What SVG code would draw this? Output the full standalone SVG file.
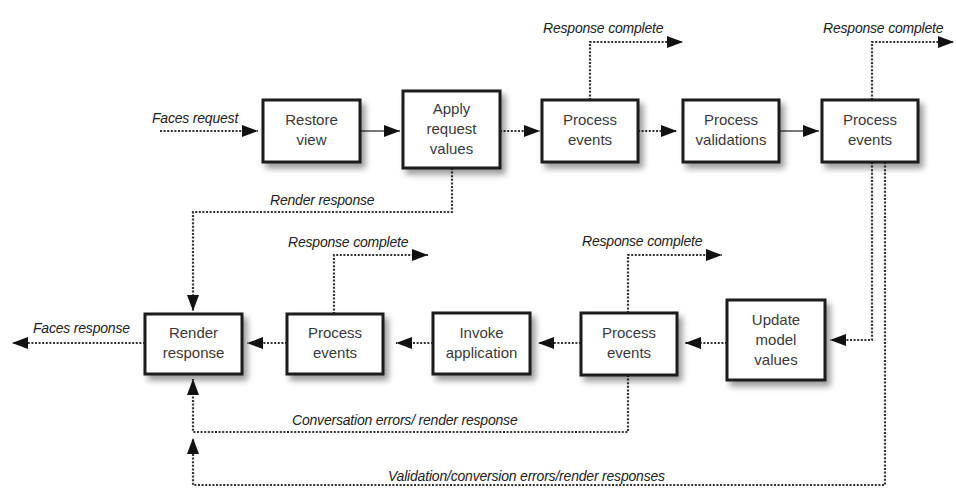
<svg xmlns="http://www.w3.org/2000/svg" width="956" height="489" viewBox="0 0 956 489">
  <defs>
    <style>
      .box { fill: #ffffff; stroke: #1c1c1c; stroke-width: 3; filter: url(#shadow); }
      .name { font-family: "Liberation Sans", Arial, sans-serif; font-size: 15px; fill: #3a3a3a; text-anchor: middle; }
      .lbl { font-family: "Liberation Sans", Arial, sans-serif; font-size: 14px; font-style: italic; fill: #222222; letter-spacing: -0.2px; }
      .dot { fill: none; stroke: #333333; stroke-width: 2.2; stroke-dasharray: 2 1.6; marker-end: url(#arrow); }
      .solid { fill: none; stroke: #7a7a7a; stroke-width: 2.2; marker-end: url(#arrow); }
    </style>
    <filter id="shadow" x="-20%" y="-20%" width="150%" height="160%">
      <feGaussianBlur in="SourceAlpha" stdDeviation="3"/>
      <feOffset dx="4" dy="5" result="b"/>
      <feComponentTransfer><feFuncA type="linear" slope="0.4"/></feComponentTransfer>
      <feMerge><feMergeNode/><feMergeNode in="SourceGraphic"/></feMerge>
    </filter>
    <marker id="arrow" viewBox="0 0 16 12" refX="16" refY="6" markerWidth="16" markerHeight="12" markerUnits="userSpaceOnUse" orient="auto">
      <path d="M0,0 L16,6 L0,12 z" fill="#111111"/>
    </marker>
  </defs>

  <rect width="956" height="489" fill="#ffffff"/>

  <!-- connectors -->
  <g id="connectors">
    <path class="dot" d="M160,131 H258"/>
    <path class="solid" d="M360,131 H400"/>
    <path class="dot" d="M500,131 H540"/>
    <path class="dot" d="M638,131 H677"/>
    <path class="solid" d="M779,131 H819"/>
    <path class="dot" d="M590,100 V42 H683"/>
    <path class="dot" d="M872,100 V42 H954"/>
    <path class="dot" d="M872,162 V340 H830"/>
    <path class="dot" d="M885,162 V485 H193 V438"/>
    <path class="dot" d="M727,343 H685"/>
    <path class="dot" d="M581,343 H538"/>
    <path class="dot" d="M433,343 H396"/>
    <path class="dot" d="M287,343 H247"/>
    <path class="dot" d="M145,343 H12"/>
    <path class="dot" d="M452,168 V212 H193 V311"/>
    <path class="dot" d="M334,314 V255 H428"/>
    <path class="dot" d="M628,313 V255 H722"/>
    <path class="dot" d="M628,375 V432 H193 V379"/>

    <text class="lbl" x="152" y="123">Faces request</text>
    <text class="lbl" x="543" y="33">Response complete</text>
    <text class="lbl" x="823" y="33">Response complete</text>
    <text class="lbl" x="270" y="205">Render response</text>
    <text class="lbl" x="288" y="247">Response complete</text>
    <text class="lbl" x="582" y="246">Response complete</text>
    <text class="lbl" x="33" y="333">Faces response</text>
    <text class="lbl" x="292" y="425">Conversation errors/ render response</text>
    <text class="lbl" x="388" y="481">Validation/conversion errors/render responses</text>
  </g>

  <!-- top row -->
  <g id="restore-view">
    <rect class="box" x="263" y="100" width="97" height="62"/>
    <text class="name" x="311.5" y="125">Restore</text>
    <text class="name" x="311.5" y="145">view</text>
  </g>
  <g id="apply-request-values">
    <rect class="box" x="403" y="91" width="97" height="77"/>
    <text class="name" x="451.5" y="114">Apply</text>
    <text class="name" x="451.5" y="134">request</text>
    <text class="name" x="451.5" y="154">values</text>
  </g>
  <g id="process-events-1">
    <rect class="box" x="542" y="100" width="96" height="62"/>
    <text class="name" x="590" y="125">Process</text>
    <text class="name" x="590" y="145">events</text>
  </g>
  <g id="process-validations">
    <rect class="box" x="683" y="100" width="96" height="62"/>
    <text class="name" x="731" y="125">Process</text>
    <text class="name" x="731" y="145">validations</text>
  </g>
  <g id="process-events-2">
    <rect class="box" x="822" y="100" width="96" height="62"/>
    <text class="name" x="870" y="125">Process</text>
    <text class="name" x="870" y="145">events</text>
  </g>

  <!-- bottom row -->
  <g id="render-response">
    <rect class="box" x="145" y="314" width="97" height="60"/>
    <text class="name" x="193.5" y="338">Render</text>
    <text class="name" x="193.5" y="358">response</text>
  </g>
  <g id="process-events-3">
    <rect class="box" x="287" y="314" width="96" height="60"/>
    <text class="name" x="335" y="338">Process</text>
    <text class="name" x="335" y="358">events</text>
  </g>
  <g id="invoke-application">
    <rect class="box" x="433" y="313" width="97" height="61"/>
    <text class="name" x="481.5" y="338">Invoke</text>
    <text class="name" x="481.5" y="358">application</text>
  </g>
  <g id="process-events-4">
    <rect class="box" x="581" y="313" width="96" height="62"/>
    <text class="name" x="629" y="338">Process</text>
    <text class="name" x="629" y="358">events</text>
  </g>
  <g id="update-model-values">
    <rect class="box" x="727" y="300" width="98" height="80"/>
    <text class="name" x="776" y="325">Update</text>
    <text class="name" x="776" y="345">model</text>
    <text class="name" x="776" y="365">values</text>
  </g>
</svg>
